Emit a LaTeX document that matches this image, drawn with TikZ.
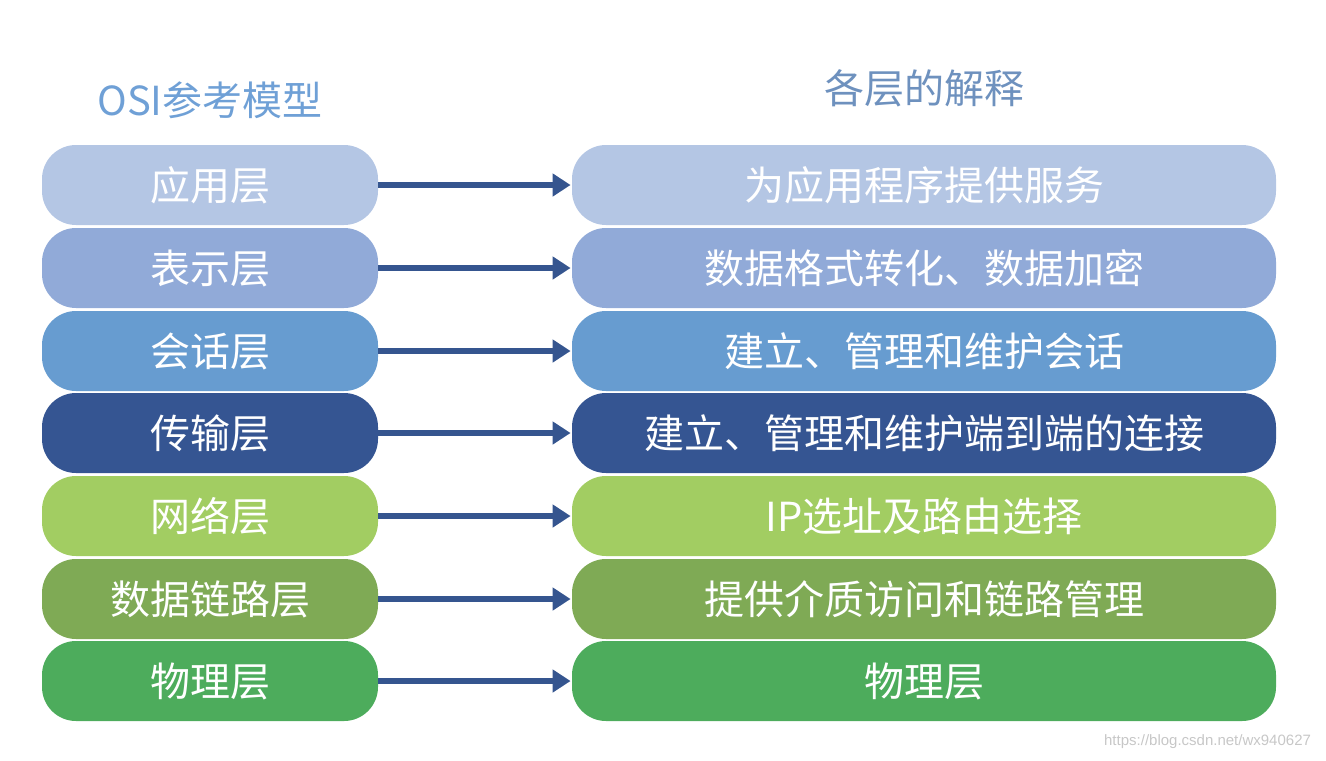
\documentclass[tikz,border=0pt]{standalone}
\usepackage{fontspec}
\newfontfamily\cjk{Noto Sans CJK SC}
\setsansfont{Liberation Sans}
\usetikzlibrary{arrows.meta}
\definecolor{c1}{RGB}{180,198,228}
\definecolor{c2}{RGB}{145,170,216}
\definecolor{c3}{RGB}{103,156,208}
\definecolor{c4}{RGB}{53,85,146}
\definecolor{c5}{RGB}{162,205,98}
\definecolor{c6}{RGB}{127,170,85}
\definecolor{c7}{RGB}{77,172,92}
\definecolor{arr}{RGB}{53,85,143}
\definecolor{ttl}{RGB}{111,160,214}
\definecolor{ttr}{RGB}{110,145,190}
\begin{document}
\begin{tikzpicture}[x=0.5pt,y=-0.5pt,
  layer/.style={rounded corners=17pt, minimum height=40pt, inner sep=0pt, text=white, font=\cjk\fontsize{20}{24}\selectfont},
  lbox/.style={layer, minimum width=168pt},
  rbox/.style={layer, minimum width=352pt},
  conn/.style={arr, line width=2.8pt, -{Triangle[length=9pt,width=11pt]}, shorten >=0.5pt},
  title/.style={font=\cjk\fontsize{20}{24}\selectfont}]
\useasboundingbox (0,0) rectangle (1326,760);
\node[title, text=ttl] (tl) at (210,100) {OSI参考模型};
\node[title, text=ttr] (tr) at (924,88) {各层的解释};
\foreach \i/\y/\c/\a/\b in {
  1/185/c1/应用层/为应用程序提供服务,
  2/268/c2/表示层/数据格式转化、数据加密,
  3/351/c3/会话层/建立、管理和维护会话,
  4/433/c4/传输层/建立、管理和维护端到端的连接,
  5/516/c5/网络层/IP选址及路由选择,
  6/599/c6/数据链路层/提供介质访问和链路管理,
  7/681/c7/物理层/物理层}{
  \node[lbox, fill=\c] (l\i) at (210,\y) {\a};
  \node[rbox, fill=\c] (r\i) at (924,\y) {\b};
  \draw[conn] (l\i) -- (r\i);
}
\node[font=\sffamily\fontsize{7.5}{9}\selectfont, text=black!22, anchor=east] (wm) at (1318,742) {https://blog.csdn.net/wx940627};
\end{tikzpicture}
\end{document}
